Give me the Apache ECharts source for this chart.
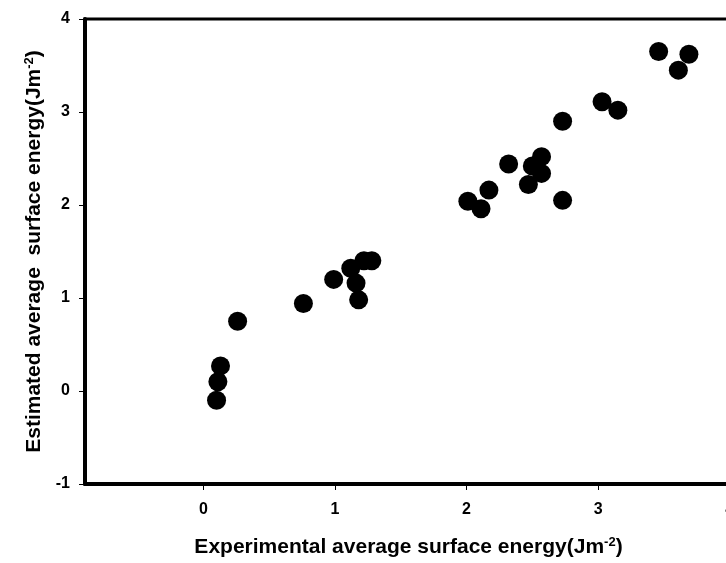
<!DOCTYPE html>
<html>
<head>
<meta charset="utf-8">
<script src="https://cdn.jsdelivr.net/npm/echarts@6/dist/echarts.min.js"></script>
<style>
  html, body { margin: 0; padding: 0; background: #fff; }
  #chart { width: 726px; height: 563px; }
</style>
</head>
<body>
<div id="chart"></div>
<script>
// 实验值 vs 估算值 (Jm^-2)
const experimental = [0.10, 0.11, 0.13, 0.26, 0.76, 0.99, 1.12, 1.16, 1.18, 1.22, 1.28,
  2.01, 2.11, 2.17, 2.32, 2.47, 2.50, 2.57, 2.57, 2.73, 2.73, 3.03, 3.15, 3.46, 3.61, 3.69];
const estimated = [-0.10, 0.10, 0.27, 0.75, 0.94, 1.20, 1.32, 1.16, 0.98, 1.40, 1.40,
  2.04, 1.96, 2.16, 2.44, 2.22, 2.42, 2.52, 2.34, 2.90, 2.05, 3.11, 3.02, 3.65, 3.45, 3.62];
const xTicks = [0, 1, 2, 3, 4];
const yTicks = [-1, 0, 1, 2, 3, 4];

const chart = echarts.init(document.getElementById('chart'));

const font = 'Liberation Sans, Arial, sans-serif';
const nameRich = {
  a: { fontFamily: font, fontWeight: 'bold', fontSize: 21, color: '#000' },
  sup: { fontFamily: font, fontWeight: 'bold', fontSize: 13, color: '#000', verticalAlign: 'top', padding: [0, 0, 9, 0] }
};

const option = {
  animation: false,
  grid: {
    left: 85, top: 19, bottom: 79, width: 671,
    outerBoundsMode: 'none',
    show: true, borderColor: '#000', borderWidth: 3
  },
  xAxis: {
    type: 'value',
    min: -0.9, max: 4.2,
    splitLine: { show: false },
    axisLine: { onZero: false, lineStyle: { color: '#000', width: 4 } },
    axisTick: { customValues: xTicks, length: 6, lineStyle: { color: '#000', width: 1 } },
    axisLabel: { customValues: xTicks, margin: 18, fontFamily: font, fontWeight: 'bold', fontSize: 16, color: '#000' },
    name: '{a|Experimental average surface energy(Jm}{sup|-2}{a|)}',
    nameLocation: 'middle',
    nameGap: 52,
    nameTextStyle: { rich: nameRich, padding: [0, 24, 0, 0] }
  },
  yAxis: {
    type: 'value',
    min: -1, max: 4, interval: 1,
    splitLine: { show: false },
    axisLine: { onZero: false, lineStyle: { color: '#000', width: 4 } },
    axisTick: { length: 6, lineStyle: { color: '#000', width: 1 } },
    axisLabel: { margin: 15, fontFamily: font, fontWeight: 'bold', fontSize: 16, color: '#000' },
    name: '{a|Estimated average  surface energy(Jm}{sup|-2}{a|)}',
    nameLocation: 'middle',
    nameGap: 40,
    nameTextStyle: { rich: nameRich }
  },
  series: [{
    type: 'scatter',
    symbol: 'circle',
    symbolSize: 19,
    itemStyle: { color: '#000', opacity: 1 },
    data: experimental.map((x, i) => [x, estimated[i]])
  }]
};

chart.setOption(option);
</script>
</body>
</html>
